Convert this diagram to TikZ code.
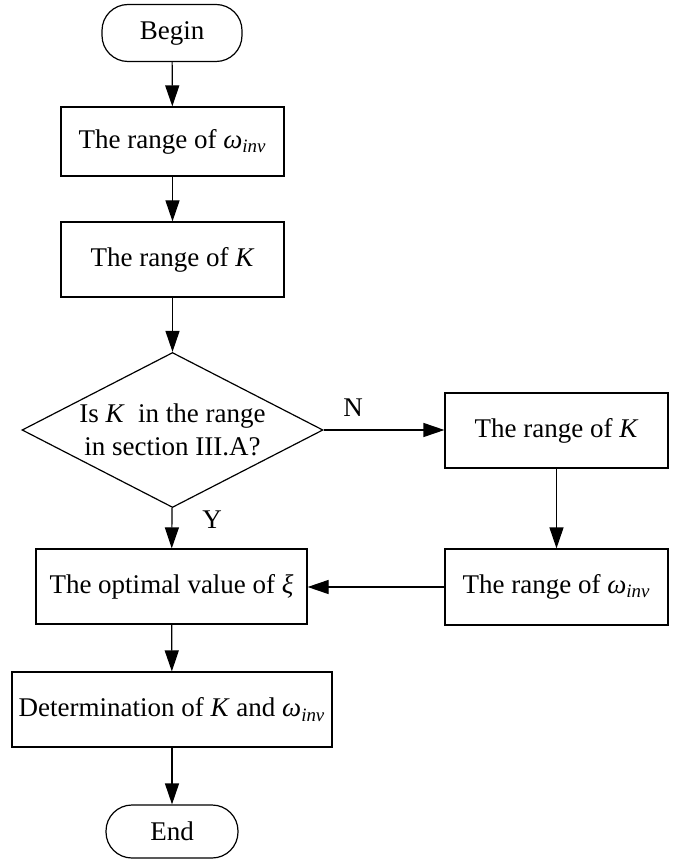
\documentclass[tikz,border=0pt]{standalone}
\usepackage{fontspec}
\setmainfont{Liberation Serif}
\usepackage{tikz}
\usetikzlibrary{shapes.geometric, arrows.meta, positioning, calc}

\newcommand{\winv}{\textit{ω}\textsubscript{\textit{inv}}}

\tikzset{
    box/.style={draw, line width=0.6pt, inner sep=0pt, align=center},
    term/.style={box, rounded corners=13pt},
    decide/.style={draw, line width=0.6pt, diamond, aspect=1.94, inner sep=0pt, align=center},
    flow/.style={line width=0.6pt, -{Triangle[length=10.5pt,width=7pt]}}
}

\begin{document}
\begin{tikzpicture}[x=0.5pt, y=-0.5pt,
    every node/.style={font=\fontsize{13.5}{16.5}\selectfont}]
    \useasboundingbox (0,0) rectangle (684,861);

    % Main column
    \node[term, minimum width=70pt, minimum height=28.5pt] (begin) at (172,33) {Begin};
    \node[box, minimum width=111.5pt, minimum height=34.5pt] (rangeW) at (172.5,141.5) {The range of \winv};
    \node[box, minimum width=111.5pt, minimum height=37.5pt] (rangeK) at (172.5,259.5) {The range of \textit{K}};
    \node[decide, minimum width=150.5pt, minimum height=77.5pt] (check) at (172.5,430)
        {Is \textit{K}\ \ in the range\\in section III.A?};
    \node[box, minimum width=135.5pt, minimum height=37.5pt] (optXi) at (171.5,586.5) {The optimal value of \textit{ξ}};
    \node[box, minimum width=160pt, minimum height=37.5pt] (determ) at (172,709.5) {Determination of \textit{K} and \winv};
    \node[term, minimum width=66pt, minimum height=26.5pt] (end) at (172,831.5) {End};

    % Right branch
    \node[box, minimum width=111.5pt, minimum height=37.5pt] (newK) at (556.5,430.5) {The range of \textit{K}};
    \node[box, minimum width=111.5pt, minimum height=38pt] (newW) at (556.5,587) {The range of \winv};

    % Connectors
    \draw[flow] (begin) -- (rangeW);
    \draw[flow] (rangeW) -- (rangeK);
    \draw[flow] (rangeK) -- (check);
    \draw[flow] (check) -- (optXi);
    \draw[flow] (check.east) -- (newK.west |- check.east);
    \draw[flow] (newK) -- (newW);
    \draw[flow] (newW.west) -- (optXi.east |- newW.west);
    \draw[flow] (optXi) -- (determ);
    \draw[flow] (determ) -- (end);

    % Labels
    \node (labN) at (353,408) {N};
    \node (labY) at (212,520) {Y};
\end{tikzpicture}
\end{document}
